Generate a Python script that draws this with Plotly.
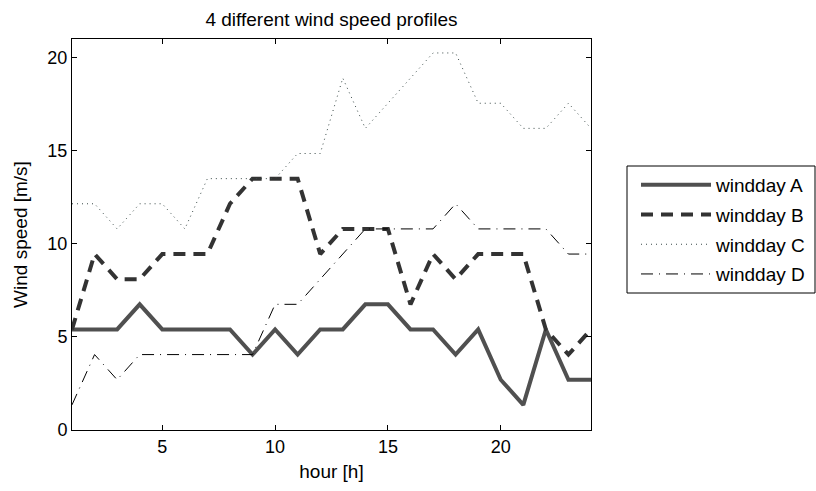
import plotly.graph_objects as go

hours = list(range(1, 25))
windday_A = [5.4, 5.4, 5.4, 6.75, 5.4, 5.4, 5.4, 5.4, 4.05, 5.4, 4.05, 5.4,
             5.4, 6.75, 6.75, 5.4, 5.4, 4.05, 5.4, 2.7, 1.35, 5.4, 2.7, 2.7]
windday_B = [5.4, 9.45, 8.1, 8.1, 9.45, 9.45, 9.45, 12.15, 13.5, 13.5, 13.5, 9.45,
             10.8, 10.8, 10.8, 6.75, 9.45, 8.1, 9.45, 9.45, 9.45, 5.4, 4.05, 5.4]
windday_C = [12.15, 12.15, 10.8, 12.15, 12.15, 10.8, 13.5, 13.5, 13.5, 13.5, 14.85, 14.85,
             18.9, 16.2, 17.55, 18.9, 20.25, 20.25, 17.55, 17.55, 16.2, 16.2, 17.55, 16.2]
windday_D = [1.35, 4.05, 2.7, 4.05, 4.05, 4.05, 4.05, 4.05, 4.05, 6.75, 6.75, 8.1,
             9.45, 10.8, 10.8, 10.8, 10.8, 12.15, 10.8, 10.8, 10.8, 10.8, 9.45, 9.45]

names = ["windday A", "windday B", "windday C", "windday D"]
series = [windday_A, windday_B, windday_C, windday_D]
styles = [
    dict(color="#505050", width=4, dash="solid"),
    dict(color="#333333", width=4, dash="12px,8px"),
    dict(color="#3a4a48", width=1, dash="1px,4px"),
    dict(color="#000000", width=1, dash="12px,6px,1px,6px"),
]

FONT = "Liberation Sans, Arial, Helvetica, sans-serif"
FS = 19

# plot area in pixels
L, R, T, B = 72, 591, 39, 430
W, H = 816, 491

fig = go.Figure()
for n, s, st in zip(names, series, styles):
    fig.add_trace(go.Scatter(x=hours, y=s, mode="lines", name=n, line=st,
                             legendgroup=n))

axis_common = dict(showline=True, linecolor="black", linewidth=1, mirror="allticks",
                   ticks="inside", ticklen=5, tickcolor="black", showgrid=False,
                   zeroline=False, automargin=False,
                   tickfont=dict(size=18, color="black", family=FONT))

pw, ph = R - L, B - T
fig.update_layout(
    width=W, height=H,
    margin=dict(l=L, r=W - R, t=T, b=H - B, autoexpand=False),
    paper_bgcolor="white", plot_bgcolor="white",
    font=dict(family=FONT, size=FS, color="black"),
    title=dict(text="4 different wind speed profiles", x=(L + R) / 2 / W, xanchor="center",
               y=1 - 19 / H, yanchor="middle", font=dict(size=FS, color="black")),
    xaxis=dict(range=[1, 24], tickvals=[5, 10, 15, 20],
               title=dict(text="hour [h]", standoff=9, font=dict(size=FS)), **axis_common),
    yaxis=dict(range=[0, 21], tickvals=[0, 5, 10, 15, 20],
               title=dict(text="Wind speed [m/s]", standoff=14, font=dict(size=FS)), **axis_common),
    legend=dict(xref="container", yref="container", x=636 / W, xanchor="left",
                y=1 - 166 / H, yanchor="top",
                borderwidth=0, bgcolor="rgba(0,0,0,0)",
                font=dict(size=FS, color="black", family=FONT),
                itemwidth=70, tracegroupgap=2, traceorder="grouped"),
    shapes=[dict(type="rect", xref="paper", yref="paper",
                 x0=(627 - L) / pw, x1=(815 - L) / pw,
                 y0=(B - 293) / ph, y1=(B - 166) / ph,
                 line=dict(color="black", width=1), fillcolor="rgba(0,0,0,0)", layer="above")],
    showlegend=True,
)

fig.write_html("out.html")
